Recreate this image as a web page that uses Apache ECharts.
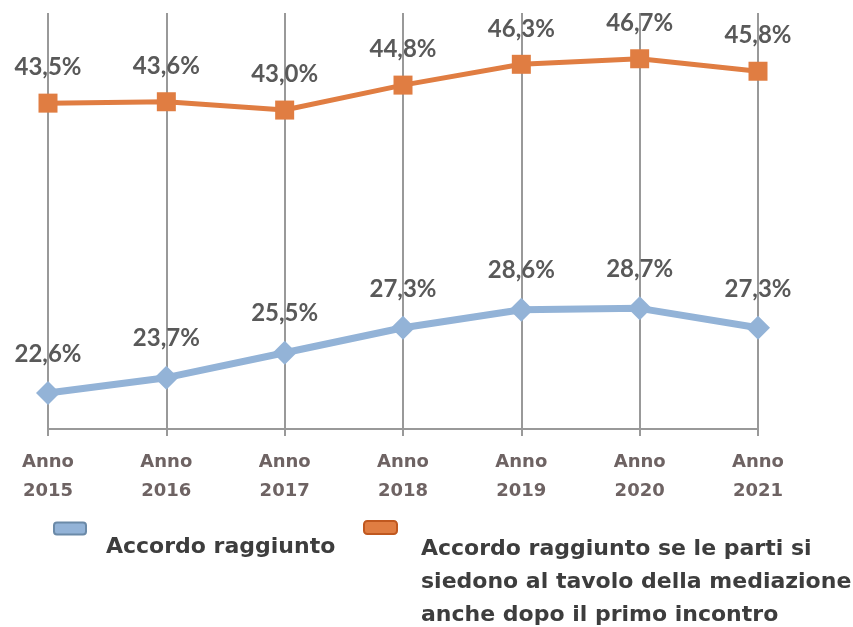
<!DOCTYPE html>
<html>
<head>
<meta charset="utf-8">
<script src="https://cdn.jsdelivr.net/npm/echarts@6/dist/echarts.min.js"></script>
<style>
    html, body { margin: 0; padding: 0; background: #fff; }
    #chart { width: 853px; height: 627px; }
</style>
</head>
<body>
<div id="chart"></div>
<script>
const years = ['Anno\n2015', 'Anno\n2016', 'Anno\n2017', 'Anno\n2018', 'Anno\n2019', 'Anno\n2020', 'Anno\n2021'];
const accordoRaggiunto = [22.6, 23.7, 25.5, 27.3, 28.6, 28.7, 27.3];
const accordoAnchePrimo = [43.5, 43.6, 43.0, 44.8, 46.3, 46.7, 45.8];
const nameBlue = 'Accordo raggiunto';
const nameOrange = 'Accordo raggiunto se le parti si siedono al tavolo della mediazione anche dopo il primo incontro';
const orangeLines = ['Accordo raggiunto se le parti si', 'siedono al tavolo della mediazione', 'anche dopo il primo incontro'];

const labelFont = 'Lato, "Open Sans", sans-serif';
const legendFont = '"DejaVu Sans", sans-serif';

function pct(p) {
    return p.value.toFixed(1).replace('.', ',') + '%';
}

// legend text: an empty spacer line pushes the label below the icon
function legendText(gap, indent) {
    return {
        color: '#3d3d3d', fontFamily: legendFont, fontWeight: 'bold', fontSize: 22,
        lineHeight: 33,
        rich: {
            gap: { fontSize: 1, lineHeight: gap },
            t: {
                color: '#3d3d3d', fontFamily: legendFont, fontWeight: 'bold', fontSize: 22,
                lineHeight: 33, padding: [0, 0, 0, indent],
            },
        },
    };
}

const chart = echarts.init(document.getElementById('chart'));
chart.setOption({
    animation: false,
    grid: { left: 48, right: 95, top: 13, bottom: 198 },
    xAxis: {
        type: 'category',
        data: years,
        boundaryGap: false,
        axisLine: { lineStyle: { color: '#999', width: 2 } },
        axisTick: { show: true, length: 7, lineStyle: { color: '#999', width: 2 } },
        splitLine: { show: true, lineStyle: { color: '#999', width: 2 } },
        axisLabel: {
            margin: 19, color: '#6e6363', fontFamily: legendFont, fontWeight: 'bold',
            fontSize: 18, lineHeight: 29,
        },
    },
    yAxis: { type: 'value', min: 20, max: 50, show: false, splitLine: { show: false } },
    legend: [{
        data: [nameBlue],
        left: 53, top: 493, padding: 0,
        itemWidth: 32, itemHeight: 12, itemGap: 0,
        icon: 'roundRect',
        formatter: () => '{gap| }\n{t|' + nameBlue + '}',
        textStyle: legendText(38, 15),
        itemStyle: { borderColor: '#6b8aa8', borderWidth: 2 },
    }, {
        data: [nameOrange],
        left: 363, top: 423, padding: 0,
        itemWidth: 33, itemHeight: 13, itemGap: 0,
        icon: 'roundRect',
        formatter: () => '{gap| }\n' + orangeLines.map(l => '{t|' + l + '}').join('\n'),
        textStyle: legendText(110, 19),
        itemStyle: { borderColor: '#c0581f', borderWidth: 2 },
    }],
    series: [{
        name: nameBlue,
        type: 'line',
        data: accordoRaggiunto,
        symbol: 'diamond',
        symbolSize: 24,
        lineStyle: { color: '#93b3d7', width: 7 },
        itemStyle: { color: '#93b3d7' },
        label: {
            show: true, position: 'top', distance: 15, formatter: pct,
            color: '#595959', fontFamily: labelFont, fontWeight: 'bold', fontSize: 24,
        },
    }, {
        name: nameOrange,
        type: 'line',
        data: accordoAnchePrimo,
        symbol: 'rect',
        symbolSize: 19,
        lineStyle: { color: '#e07d42', width: 5 },
        itemStyle: { color: '#e07d42' },
        label: {
            show: true, position: 'top', distance: 14, formatter: pct,
            color: '#595959', fontFamily: labelFont, fontWeight: 'bold', fontSize: 24,
        },
    }],
});
</script>
</body>
</html>
